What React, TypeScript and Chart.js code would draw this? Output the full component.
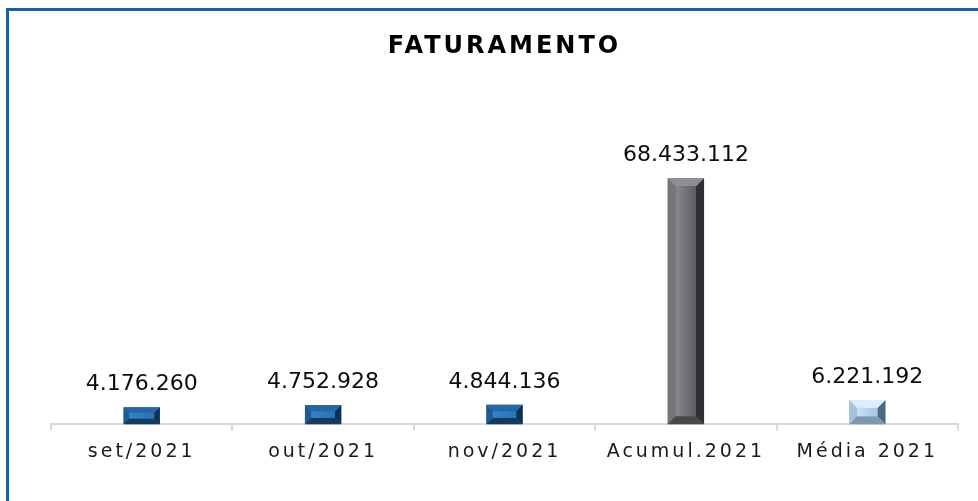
import React, { useEffect, useRef } from "react";
import { Chart, registerables } from "chart.js";

Chart.register(...registerables);

const categories = ["set/2021", "out/2021", "nov/2021", "Acumul.2021", "Média 2021"];
const values = [4176260, 4752928, 4844136, 68433112, 6221192];
const chartTitle = "FATURAMENTO";
const yMin = -600000;
const yMax = 75000000;

type Pal = { top: string; bottom: string; left: string; right: string; f1: string; f2: string };
const bluePal: Pal = { top: "#2766a3", bottom: "#143a60", left: "#1f5a94", right: "#112f4f", f1: "#3184cb", f2: "#2a72b4" };
const grayPal: Pal = { top: "#8e8f93", bottom: "#48494b", left: "#75767a", right: "#2e2f31", f1: "#88898d", f2: "#5c5d60" };
const lightPal: Pal = { top: "#dcedfb", bottom: "#7d98b1", left: "#a8c2da", right: "#4d6883", f1: "#c6e0f6", f2: "#a5c6e4" };
const barPalettes: Pal[] = [bluePal, bluePal, bluePal, grayPal, lightPal];

const FONT = "'DejaVu Sans', sans-serif";

function fmt(n: number): string {
  return Math.round(n).toString().replace(/\B(?=(\d{3})+(?!\d))/g, ".");
}

const letterSpacingPlugin = {
  id: "letterSpacing",
  beforeDraw(chart: any) {
    chart.ctx.letterSpacing = "3px";
  },
  beforeDatasetsDraw(chart: any) {
    chart.ctx.letterSpacing = "0px";
  },
};

const bevelPlugin = {
  id: "bevelBars",
  afterDatasetsDraw(chart: any) {
    const ctx = chart.ctx as CanvasRenderingContext2D;
    const meta = chart.getDatasetMeta(0);
    meta.data.forEach((el: any, i: number) => {
      const pal = barPalettes[i];
      const w = el.width;
      const l = el.x - w / 2;
      const r = el.x + w / 2;
      const t = Math.min(el.y, el.base);
      const btm = Math.max(el.y, el.base);
      const h = btm - t;
      const b = Math.min(8, h / 3, w / 2);
      ctx.save();
      const poly = (pts: number[][], color: string | CanvasGradient) => {
        ctx.beginPath();
        ctx.moveTo(pts[0][0], pts[0][1]);
        for (let k = 1; k < pts.length; k++) ctx.lineTo(pts[k][0], pts[k][1]);
        ctx.closePath();
        ctx.fillStyle = color;
        ctx.fill();
      };
      poly([[l, t], [l + b, t + b], [l + b, btm - b], [l, btm]], pal.left);
      poly([[r, t], [r - b, t + b], [r - b, btm - b], [r, btm]], pal.right);
      poly([[l, t], [r, t], [r - b, t + b], [l + b, t + b]], pal.top);
      poly([[l, btm], [r, btm], [r - b, btm - b], [l + b, btm - b]], pal.bottom);
      const g = ctx.createLinearGradient(l + b, 0, r - b, 0);
      g.addColorStop(0, pal.f1);
      g.addColorStop(1, pal.f2);
      ctx.fillStyle = g;
      ctx.fillRect(l + b, t + b, w - 2 * b, h - 2 * b);
      ctx.restore();

      // value label
      ctx.save();
      ctx.font = `22px ${FONT}`;
      ctx.fillStyle = "#0d0d0d";
      ctx.textAlign = "center";
      ctx.textBaseline = "alphabetic";
      ctx.fillText(fmt(values[i]), el.x, t - 17);
      ctx.restore();
    });
  },
};

export default function App() {
  const ref = useRef<HTMLCanvasElement | null>(null);
  useEffect(() => {
    if (!ref.current) return;
    const chart = new Chart(ref.current, {
      type: "bar",
      data: {
        labels: categories,
        datasets: [
          {
            data: values,
            base: yMin,
            backgroundColor: barPalettes.map((p) => p.f2),
            borderWidth: 0,
            categoryPercentage: 1,
            barPercentage: 0.2,
          } as any,
        ],
      },
      options: {
        responsive: false,
        animation: false,
        layout: { padding: { left: 51, right: 20, top: 0, bottom: 28 } },
        plugins: {
          legend: { display: false },
          tooltip: { enabled: false },
          title: {
            display: true,
            text: chartTitle,
            color: "#000000",
            font: { family: FONT, size: 24, weight: "bold" },
            padding: { top: 32, bottom: 94 },
          },
        },
        scales: {
          x: {
            border: { display: true, color: "#d9d9d9", width: 2 },
            grid: {
              display: true,
              drawOnChartArea: false,
              drawTicks: true,
              tickLength: 6,
              color: "#d9d9d9",
              lineWidth: 2,
              offset: true,
            },
            ticks: {
              color: "#1a1a1a",
              font: { family: FONT, size: 19 },
              padding: 10,
              maxRotation: 0,
              autoSkip: false,
            },
          },
          y: {
            display: false,
            min: yMin,
            max: yMax,
          },
        },
      },
      plugins: [letterSpacingPlugin, bevelPlugin],
    });
    return () => chart.destroy();
  }, []);

  return (
    <div style={{ position: "absolute", left: 0, top: 0, width: 978, height: 501, background: "#ffffff", overflow: "hidden" }}>
      <canvas ref={ref} width={978} height={501} style={{ display: "block", position: "absolute", left: 0, top: 0 }} />
      <div
        style={{
          position: "absolute",
          left: 6,
          top: 8,
          width: 972,
          height: 493,
          borderLeft: "3px solid #1464a5",
          borderTop: "3px solid #1464a5",
          boxSizing: "border-box",
          pointerEvents: "none",
        }}
      />
    </div>
  );
}
